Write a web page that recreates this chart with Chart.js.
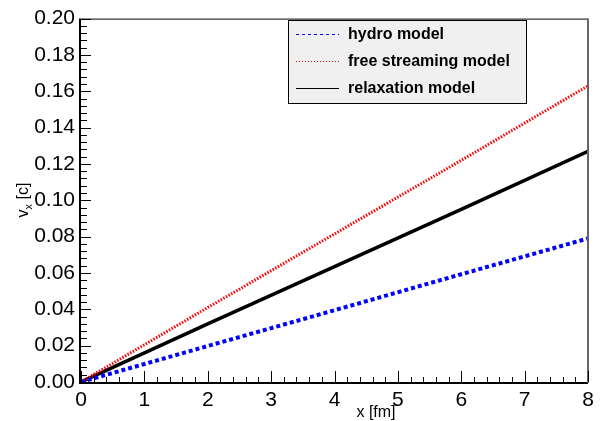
<!DOCTYPE html>
<html>
<head>
<meta charset="utf-8">
<script src="https://cdn.jsdelivr.net/npm/chart.js@4/dist/chart.umd.min.js"></script>
<style>
  html, body { margin: 0; padding: 0; background: #fff; }
  #wrap { width: 603px; height: 421px; }
</style>
</head>
<body>
<div id="wrap"><canvas id="vxChart" width="603" height="421"></canvas></div>
<script>
const xPos = [0, 2, 4, 6, 8];
const hydroData = [0, 0.0198, 0.0395, 0.0593, 0.079];
const freeData = [0, 0.041, 0.0815, 0.122, 0.163];
const relaxData = [0, 0.032, 0.0635, 0.095, 0.127];
const seriesLabels = ['hydro model', 'free streaming model', 'relaxation model'];

const pts = (ys) => xPos.map((x, i) => ({ x: x, y: ys[i] }));
const FONT = '"Liberation Sans", Arial, sans-serif';

// ROOT-like frame, inward ticks, legend box and axis titles
const rootFrame = {
    id: 'rootFrame',
    afterDatasetsDraw(chart) {
        const { ctx, chartArea: a, scales } = chart;
        const xs = scales.x, ys = scales.y;
        ctx.save();
        ctx.lineCap = 'butt';

        // frame
        ctx.strokeStyle = '#000';
        ctx.lineWidth = 1;
        ctx.beginPath();
        ctx.moveTo(a.left, a.top + 0.5);
        ctx.lineTo(a.right, a.top + 0.5);
        ctx.stroke();
        ctx.lineWidth = 2;
        ctx.beginPath();
        ctx.moveTo(a.left - 1, a.top);
        ctx.lineTo(a.left - 1, a.bottom + 1);
        ctx.lineTo(a.right, a.bottom + 1);
        ctx.stroke();
        ctx.strokeStyle = '#666';
        ctx.beginPath();
        ctx.moveTo(a.right, a.top);
        ctx.lineTo(a.right, a.bottom + 1);
        ctx.stroke();

        // x ticks
        ctx.strokeStyle = '#000';
        ctx.lineWidth = 1;
        for (let i = 0; i <= 40; i++) {
            const v = i * 0.2;
            const px = Math.round(xs.getPixelForValue(v)) + 0.5;
            const len = i % 5 === 0 ? 11 : 5;
            ctx.beginPath();
            ctx.moveTo(px, a.bottom);
            ctx.lineTo(px, a.bottom - len);
            ctx.stroke();
        }
        // y ticks
        for (let i = 0; i <= 50; i++) {
            const v = i * 0.004;
            const py = Math.round(ys.getPixelForValue(v)) + 0.5;
            const len = i % 5 === 0 ? 10 : 6;
            ctx.beginPath();
            ctx.moveTo(a.left, py);
            ctx.lineTo(a.left + len, py);
            ctx.stroke();
        }

        // axis titles
        ctx.fillStyle = '#000';
        ctx.font = '16px ' + FONT;
        ctx.textAlign = 'center';
        ctx.textBaseline = 'alphabetic';
        ctx.fillText('x [fm]', 376, 417);

        ctx.save();
        ctx.translate(28, 200);
        ctx.rotate(-Math.PI / 2);
        ctx.textAlign = 'left';
        ctx.font = '16px ' + FONT;
        const w1 = ctx.measureText('v').width;
        ctx.font = '11px ' + FONT;
        const w2 = ctx.measureText('x').width;
        ctx.font = '16px ' + FONT;
        const w3 = ctx.measureText(' [c]').width;
        let sx = -(w1 + w2 + w3) / 2;
        ctx.fillText('v', sx, 0);
        sx += w1;
        ctx.font = '11px ' + FONT;
        ctx.fillText('x', sx, 4);
        sx += w2;
        ctx.font = '16px ' + FONT;
        ctx.fillText(' [c]', sx, 0);
        ctx.restore();

        // legend
        const lx = 288, ly = 20, lw = 238, lh = 83;
        ctx.fillStyle = '#f0f0f0';
        ctx.fillRect(lx, ly, lw, lh);
        ctx.strokeStyle = '#000';
        ctx.lineWidth = 1;
        ctx.strokeRect(lx + 0.5, ly + 0.5, lw, lh);
        const styles = [
            { c: '#0000ff', d: [3, 3] },
            { c: '#ff0000', d: [1, 2] },
            { c: '#000000', d: [] }
        ];
        ctx.font = 'bold 16px ' + FONT;
        ctx.textAlign = 'left';
        ctx.textBaseline = 'middle';
        seriesLabels.forEach((lab, i) => {
            const y = 34 + i * 27;
            ctx.strokeStyle = styles[i].c;
            ctx.setLineDash(styles[i].d);
            ctx.beginPath();
            ctx.moveTo(296, Math.round(y) + 0.5);
            ctx.lineTo(339, Math.round(y) + 0.5);
            ctx.stroke();
            ctx.setLineDash([]);
            ctx.fillStyle = '#000';
            ctx.fillText(lab, 348, y + 1);
        });
        ctx.restore();
    }
};

const ctx1 = document.getElementById('vxChart').getContext('2d');
new Chart(ctx1, {
    type: 'line',
    data: {
        datasets: [{
            label: seriesLabels[0],
            data: pts(hydroData),
            borderColor: '#0000ff',
            borderWidth: 4,
            borderDash: [4, 3],
            pointRadius: 0,
            fill: false
        }, {
            label: seriesLabels[1],
            data: pts(freeData),
            borderColor: '#ff0000',
            borderWidth: 3,
            borderDash: [1.5, 1.5],
            pointRadius: 0,
            fill: false
        }, {
            label: seriesLabels[2],
            data: pts(relaxData),
            borderColor: '#000000',
            borderWidth: 3.5,
            pointRadius: 0,
            fill: false
        }]
    },
    options: {
        responsive: false,
        animation: false,
        layout: { padding: { left: 0, top: 15, right: 15, bottom: 0 } },
        plugins: { legend: { display: false }, tooltip: { enabled: false } },
        scales: {
            x: {
                type: 'linear',
                min: 0, max: 8,
                grid: { display: false, drawTicks: false },
                border: { display: false },
                ticks: {
                    stepSize: 1,
                    padding: 6,
                    color: '#000',
                    maxRotation: 0,
                    font: { family: FONT, size: 21 }
                },
                afterFit(s) { s.height = 39; }
            },
            y: {
                min: 0, max: 0.2,
                grid: { display: false, drawTicks: false },
                border: { display: false },
                ticks: {
                    stepSize: 0.02,
                    padding: 6,
                    color: '#000',
                    font: { family: FONT, size: 21 },
                    callback: (v) => v.toFixed(2)
                },
                afterFit(s) { s.width = 81; }
            }
        }
    },
    plugins: [rootFrame]
});
</script>
</body>
</html>
